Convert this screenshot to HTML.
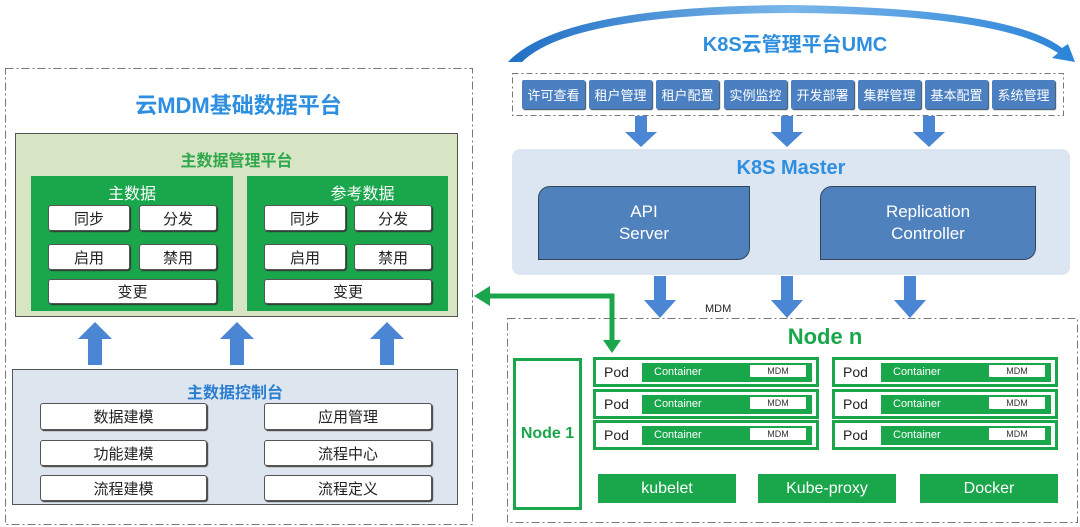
<!DOCTYPE html>
<html><head><meta charset="utf-8"><style>
*{margin:0;padding:0;box-sizing:border-box}
body{width:1080px;height:527px;background:#fff;position:relative;overflow:hidden;font-family:"Liberation Sans","Noto Sans CJK SC",sans-serif}
.a{position:absolute}
.c{display:flex;align-items:center;justify-content:center}
.wb{position:absolute;background:#fff;border:1px solid #555;border-radius:3px;display:flex;align-items:center;justify-content:center;font-size:15px;color:#222;box-shadow:1px 1px 1px #333}
.ub{position:absolute;top:80px;width:63px;height:29px;background:#4a7fc1;color:#fff;font-size:13px;display:flex;align-items:center;justify-content:center;border-radius:2px;box-shadow:1px 1px 1px #345}
.pod{position:absolute;height:30px;border:3px solid #1aa64b;background:#fff;font-size:14px;color:#222}
.pod span{position:absolute;left:8px;top:4px}
.ct{position:absolute;left:46px;top:3px;width:170px;height:19px;background:#1aa64b;color:#fff;font-size:11px;padding-left:12px;line-height:19px}
.md{position:absolute;right:6px;top:2px;width:56px;height:12px;background:#fff;color:#333;font-size:9px;line-height:12px;text-align:center}
.gb{position:absolute;top:474px;width:138px;height:29px;background:#1aa64b;color:#fff;font-size:16px;display:flex;align-items:center;justify-content:center}
</style></head><body>
<svg class="a" style="left:0;top:0" width="1080" height="527">
<defs><linearGradient id="g" x1="0" x2="1"><stop offset="0" stop-color="#1f6fc4"/><stop offset="0.5" stop-color="#7ab6ea"/><stop offset="1" stop-color="#2a84d8"/></linearGradient></defs>
<path d="M508 62 Q560 6 790 5 Q1010 8 1062 48 L1068 44 L1075 62 L1052 58 L1058 53 Q1000 14 790 13 Q570 14 522 62 Z" fill="url(#g)"/>
<rect x="5.5" y="68.5" width="467" height="456" fill="none" stroke="#777" stroke-dasharray="8,3,2,3"/>
<rect x="512.5" y="73.5" width="551" height="42" fill="none" stroke="#777" stroke-dasharray="6,3,2,3"/>
<rect x="507.5" y="318.5" width="570" height="204" fill="none" stroke="#777" stroke-dasharray="8,3,2,3"/>
<g fill="#4a86d4">
<path d="M88 365 h14 v-26 h10 l-17 -17 l-17 17 h10 z"/>
<path d="M230 365 h14 v-26 h10 l-17 -17 l-17 17 h10 z"/>
<path d="M380 365 h14 v-26 h10 l-17 -17 l-17 17 h10 z"/>
<path d="M635 116 h12 v16 h10 l-16 15 l-16 -15 h10 z"/>
<path d="M781 116 h12 v16 h10 l-16 15 l-16 -15 h10 z"/>
<path d="M923 116 h12 v16 h10 l-16 15 l-16 -15 h10 z"/>
<path d="M654 276 h12 v24 h10 l-16 18 l-16 -18 h10 z"/>
<path d="M781 276 h12 v24 h10 l-16 18 l-16 -18 h10 z"/>
<path d="M904 276 h12 v24 h10 l-16 18 l-16 -18 h10 z"/>
</g>
<path d="M612 340 V296 H488" fill="none" stroke="#1aa64b" stroke-width="5"/>
<path d="M474 296 l16 -10 v20 z" fill="#1aa64b"/>
<path d="M603 340 h18 l-9 13 z" fill="#1aa64b"/>
</svg>
<div class="a c" style="left:5px;top:88px;width:467px;height:32px;color:#2e8fe0;font-size:22px;font-weight:bold">云MDM基础数据平台</div>
<div class="a" style="left:15px;top:133px;width:443px;height:184px;background:#d8e5c5;border:1px solid #555"></div>
<div class="a c" style="left:15px;top:148px;width:443px;height:22px;color:#2ea84a;font-size:16px;font-weight:bold">主数据管理平台</div>
<div class="a" style="left:31px;top:176px;width:202px;height:135px;background:#1aa64b"></div>
<div class="a" style="left:247px;top:176px;width:201px;height:135px;background:#1aa64b"></div>
<div class="a c" style="left:31px;top:181px;width:202px;height:22px;color:#fff;font-size:16px">主数据</div>
<div class="a c" style="left:262px;top:181px;width:201px;height:22px;color:#fff;font-size:16px">参考数据</div>
<div class="wb" style="left:48px;top:205px;width:82px;height:26px">同步</div>
<div class="wb" style="left:139px;top:205px;width:78px;height:26px">分发</div>
<div class="wb" style="left:48px;top:244px;width:82px;height:26px">启用</div>
<div class="wb" style="left:139px;top:244px;width:78px;height:26px">禁用</div>
<div class="wb" style="left:48px;top:279px;width:169px;height:25px">变更</div>
<div class="wb" style="left:264px;top:205px;width:82px;height:26px">同步</div>
<div class="wb" style="left:354px;top:205px;width:78px;height:26px">分发</div>
<div class="wb" style="left:264px;top:244px;width:82px;height:26px">启用</div>
<div class="wb" style="left:354px;top:244px;width:78px;height:26px">禁用</div>
<div class="wb" style="left:264px;top:279px;width:168px;height:25px">变更</div>
<div class="a" style="left:12px;top:369px;width:446px;height:136px;background:#dde5ef;border:1px solid #555"></div>
<div class="a c" style="left:12px;top:380px;width:446px;height:22px;color:#2c7fd0;font-size:16px;font-weight:bold">主数据控制台</div>
<div class="wb" style="left:40px;top:403px;width:167px;height:27px">数据建模</div>
<div class="wb" style="left:264px;top:403px;width:168px;height:27px">应用管理</div>
<div class="wb" style="left:40px;top:440px;width:167px;height:26px">功能建模</div>
<div class="wb" style="left:264px;top:440px;width:168px;height:26px">流程中心</div>
<div class="wb" style="left:40px;top:475px;width:167px;height:26px">流程建模</div>
<div class="wb" style="left:264px;top:475px;width:168px;height:26px">流程定义</div>
<div class="a c" style="left:640px;top:28px;width:310px;height:28px;color:#2e8fe0;font-size:20px;font-weight:bold">K8S云管理平台UMC</div>
<div class="ub" style="left:522px">许可查看</div>
<div class="ub" style="left:589px">租户管理</div>
<div class="ub" style="left:656px">租户配置</div>
<div class="ub" style="left:724px">实例监控</div>
<div class="ub" style="left:791px">开发部署</div>
<div class="ub" style="left:858px">集群管理</div>
<div class="ub" style="left:925px">基本配置</div>
<div class="ub" style="left:992px">系统管理</div>
<div class="a" style="left:512px;top:149px;width:558px;height:126px;background:#dce6f2;border-radius:8px"></div>
<div class="a c" style="left:512px;top:154px;width:558px;height:28px;color:#2e8fe0;font-size:20px;font-weight:bold">K8S Master</div>
<div class="a c" style="left:538px;top:186px;width:212px;height:74px;background:#4f81bd;border:1px solid #345;border-radius:12px 0 12px 0;color:#fff;font-size:17px;text-align:center;line-height:22px">API<br>Server</div>
<div class="a c" style="left:820px;top:186px;width:216px;height:74px;background:#4f81bd;border:1px solid #345;border-radius:12px 0 12px 0;color:#fff;font-size:17px;text-align:center;line-height:22px">Replication<br>Controller</div>
<div class="a" style="left:705px;top:303px;font-size:11px;color:#222">MDM</div>
<div class="a c" style="left:700px;top:322px;width:250px;height:30px;color:#1aa64b;font-size:22px;font-weight:bold">Node n</div>
<div class="a c" style="left:513px;top:358px;width:69px;height:152px;border:3px solid #1aa64b;color:#1aa64b;font-size:16px;font-weight:bold">Node 1</div>
<div class="pod" style="left:593px;top:357px;width:226px"><span>Pod</span><div class="ct">Container<div class="md">MDM</div></div></div>
<div class="pod" style="left:593px;top:389px;width:226px"><span>Pod</span><div class="ct">Container<div class="md">MDM</div></div></div>
<div class="pod" style="left:593px;top:420px;width:226px"><span>Pod</span><div class="ct">Container<div class="md">MDM</div></div></div>
<div class="pod" style="left:832px;top:357px;width:226px"><span>Pod</span><div class="ct">Container<div class="md">MDM</div></div></div>
<div class="pod" style="left:832px;top:389px;width:226px"><span>Pod</span><div class="ct">Container<div class="md">MDM</div></div></div>
<div class="pod" style="left:832px;top:420px;width:226px"><span>Pod</span><div class="ct">Container<div class="md">MDM</div></div></div>
<div class="gb" style="left:598px">kubelet</div>
<div class="gb" style="left:758px">Kube-proxy</div>
<div class="gb" style="left:920px">Docker</div>
</body></html>
